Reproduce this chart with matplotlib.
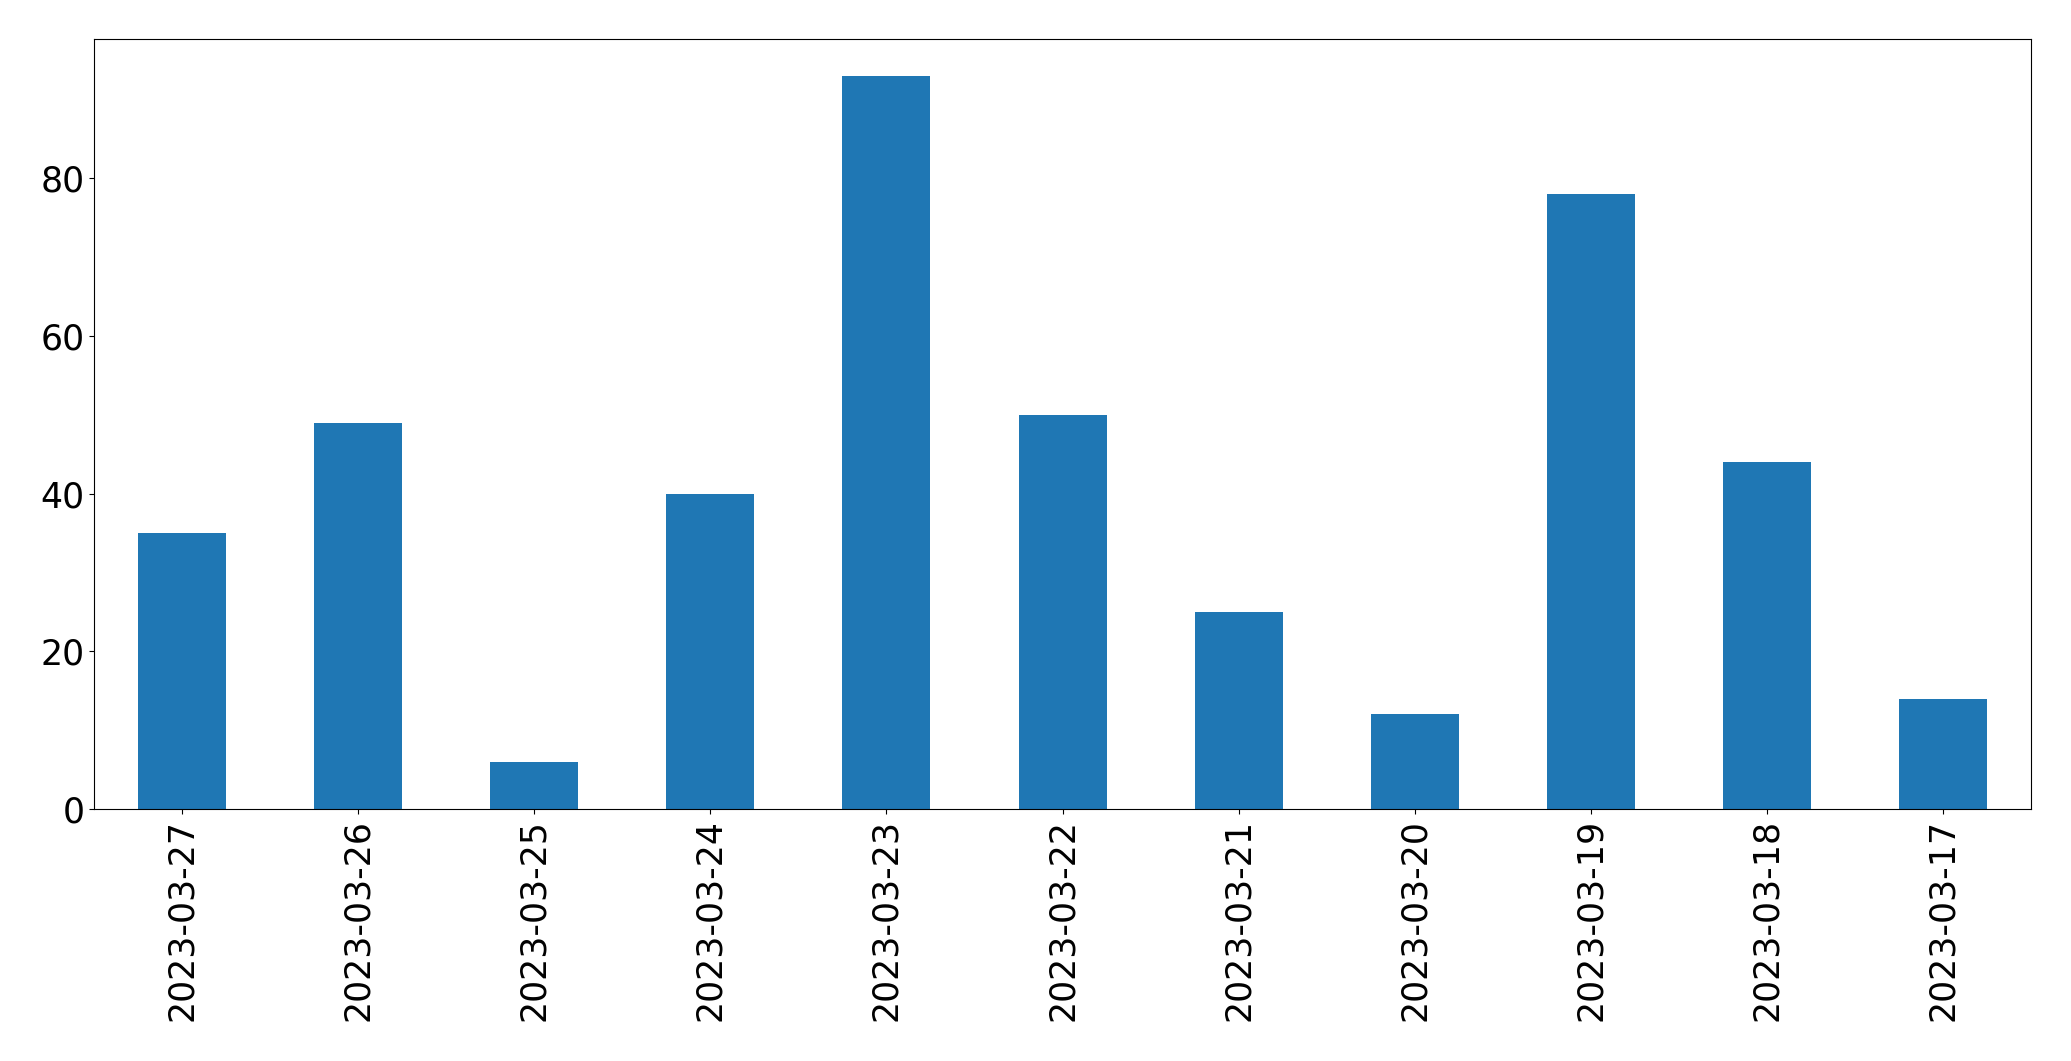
import matplotlib
matplotlib.use('Agg')
import matplotlib.pyplot as plt
import pandas as pd

dates = ['2023-03-27', '2023-03-26', '2023-03-25', '2023-03-24', '2023-03-23', '2023-03-22',
         '2023-03-21', '2023-03-20', '2023-03-19', '2023-03-18', '2023-03-17']
counts = [35, 49, 6, 40, 93, 50, 25, 12, 78, 44, 14]

s = pd.Series(counts, index=dates)

fig, ax = plt.subplots(figsize=(20.71, 10.61), dpi=100)
s.plot(kind='bar', ax=ax, color='#1f77b4', fontsize=25)
ax.tick_params(axis='both', labelsize=25)

plt.subplots_adjust(left=0.0454, right=0.9807, top=0.9633, bottom=0.2376)
fig.savefig('out.png', dpi=100)
